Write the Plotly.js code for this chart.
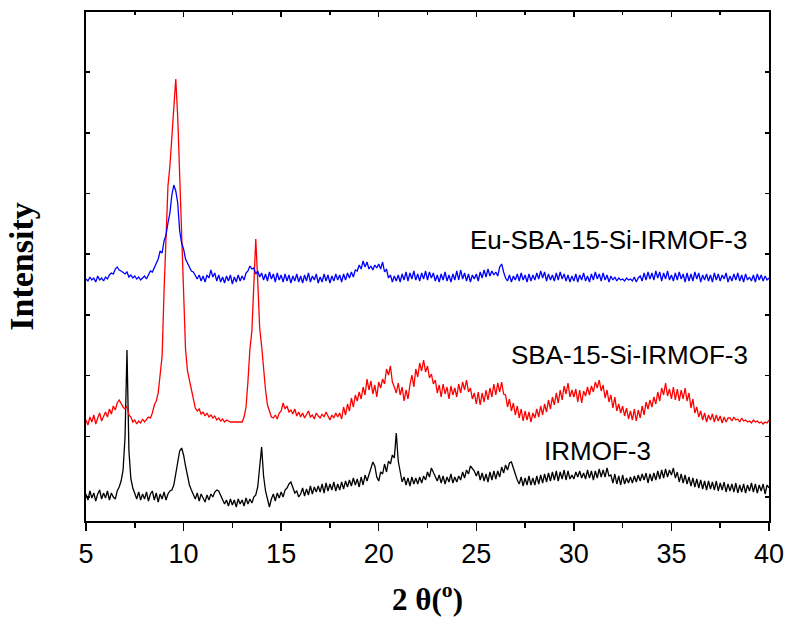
<!DOCTYPE html>
<html>
<head>
<meta charset="utf-8">
<script src="https://cdn.plot.ly/plotly-3.0.1.min.js"></script>
<style>html,body{margin:0;padding:0;background:#fff;}#chart{width:790px;height:623px;}</style>
</head>
<body>
<div id="chart"></div>
<script>
// 2theta grid: starts at 5.0 deg, step 0.1 deg (x0/dx given to Plotly)
const THETA_START = 5.0;
const THETA_STEP = 0.1;
const xTickVals = [5, 10, 15, 20, 25, 30, 35, 40];
const xTickText = ["5", "10", "15", "20", "25", "30", "35", "40"];
const seriesNames = ["IRMOF-3", "SBA-15-Si-IRMOF-3", "Eu-SBA-15-Si-IRMOF-3"];

// Intensity (a.u., offset stacked as drawn)
const irmof3 = [
27,21,30,23,28,20,27,31,22,28,
23,30,21,28,24,22,30,34,40,51,
84,171,70,42,33,27,22,29,21,27,
22,29,20,27,30,21,28,19,27,22,
29,21,27,30,31,36,48,62,70,73,
66,55,44,36,31,27,22,28,20,27,
22,19,26,21,27,24,29,31,30,25,
22,17,21,15,22,16,21,14,22,17,
21,15,23,17,22,18,24,26,34,55,
74,45,30,22,14,22,27,20,28,23,
29,24,31,33,37,39,33,28,30,24,
27,33,25,32,26,35,27,34,29,35,
29,37,28,38,30,37,31,39,30,37,
31,39,32,40,34,41,35,43,36,42,
34,44,36,46,40,47,53,59,55,44,
40,49,47,57,49,60,57,66,63,88,
60,47,39,44,36,43,35,44,37,43,
37,44,38,45,41,49,44,53,48,44,
40,46,38,45,37,44,39,47,38,44,
39,45,41,49,43,51,47,55,52,50,
45,50,41,48,40,47,39,49,41,50,
42,50,44,54,48,56,51,58,59,54,
47,41,37,44,35,43,36,45,36,43,
36,45,37,46,38,47,39,48,40,49,
41,50,40,49,42,51,41,50,42,46,
42,49,44,50,43,48,42,51,43,50,
41,50,43,52,44,51,44,53,45,46,
38,47,37,45,36,46,37,43,38,44,
38,45,39,46,40,47,41,48,38,47,
40,48,41,50,42,51,43,52,44,51,
46,53,43,49,39,47,38,46,37,44,
35,43,34,42,33,41,32,40,31,40,
32,39,31,40,30,38,31,39,29,37,
30,37,29,38,28,36,29,37,28,36,
30,38,29,37,28,36,30,37,27,36,
33];

const sba15 = [
101,96,104,99,106,97,103,108,100,105,
109,104,112,107,115,111,118,121,117,114,
112,115,106,104,99,101,97,100,98,102,
99,101,104,103,108,116,120,128,145,165,
230,295,335,355,384,415,442,404,340,280,
225,172,150,140,131,121,113,110,112,107,
109,105,108,104,106,103,105,101,103,100,
102,99,101,100,99,99,99,99,99,99,
99,104,114,140,172,190,240,282,240,193,
175,150,131,116,109,104,103,106,102,108,
110,118,112,115,109,111,107,112,105,109,
104,108,103,107,110,104,106,102,108,105,
103,107,104,109,105,101,106,103,108,104,
108,102,114,106,117,110,123,114,126,120,
129,122,134,126,142,131,140,127,136,124,
139,133,142,137,152,146,155,139,134,128,
138,126,134,120,131,122,136,146,134,152,
144,158,150,161,149,155,143,147,137,141,
128,136,124,137,127,134,122,135,126,133,
124,137,128,139,131,141,129,133,122,128,
117,129,116,128,119,131,121,133,124,137,
126,138,129,139,127,126,114,122,110,118,
106,115,103,112,100,110,101,109,99,108,
103,112,104,115,106,117,109,121,112,124,
116,128,118,131,121,135,127,138,124,131,
124,132,119,131,118,130,125,134,126,135,
129,139,133,141,130,136,123,131,119,126,
113,124,110,117,108,115,105,113,102,110,
101,112,100,111,103,115,106,119,112,121,
114,124,117,129,120,133,126,138,125,132,
122,134,121,132,120,131,122,133,120,128,
113,122,108,114,104,110,101,108,99,106,
101,107,99,106,100,105,98,104,99,103,
103,100,104,101,102,99,103,100,101,99,
100,98,101,99,100,98,99,97,99,98,
101];

const euSba15 = [
242,240,244,241,243,239,245,241,243,240,
244,242,246,248,247,252,254,251,250,248,
247,249,244,246,243,245,242,244,241,243,
245,242,247,250,249,254,258,262,270,268,
280,286,298,308,326,336,330,318,290,278,
272,262,258,254,250,249,246,242,246,240,
245,239,246,243,251,244,248,240,246,239,
244,238,245,240,246,237,244,239,246,240,
245,241,248,250,255,252,253,247,250,244,
248,241,247,240,249,242,247,239,248,241,
246,239,247,240,246,238,245,240,247,239,
245,238,246,240,248,239,245,241,247,238,
244,239,247,240,246,238,245,240,247,241,
246,239,247,241,248,243,249,244,251,250,
256,252,260,254,259,252,255,251,256,253,
257,252,259,249,252,243,246,239,245,240,
246,239,247,241,249,240,248,242,250,241,
247,240,248,242,250,241,249,243,248,240,
246,239,247,241,249,240,246,239,247,241,
250,241,251,242,248,240,247,239,246,242,
247,240,249,243,251,244,252,245,250,246,
249,245,254,257,249,243,240,246,239,245,
241,247,240,248,241,246,239,247,240,246,
241,248,242,250,243,249,240,247,241,246,
240,248,241,249,242,247,240,246,239,245,
240,247,239,246,241,248,240,245,239,247,
241,249,242,247,240,248,241,246,239,245,
241,244,240,243,241,242,240,243,241,242,
240,244,239,243,245,240,248,241,249,242,
248,241,250,243,249,240,248,242,250,241,
246,240,248,241,249,242,247,239,248,240,
247,240,249,242,248,239,246,241,247,240,
246,239,248,241,247,240,246,242,248,239,
245,240,247,241,248,240,246,239,247,241,
244,240,246,239,247,241,246,240,245,241,
243];

// label anchor positions in data units
const labelX = [31.2, 32.85, 31.75];
const labelY = [70, 166, 281];

const colors = ["#000000", "#ff0000", "#0000ff"];
const seriesData = [irmof3, sba15, euSba15];

const traces = seriesData.map((vals, i) => ({
  type: "scatter",
  mode: "lines",
  x0: THETA_START,
  dx: THETA_STEP,
  y: vals,
  name: seriesNames[i],
  line: {color: colors[i], width: 1.3},
  showlegend: false,
  hoverinfo: "skip"
}));
// empty trace to carry the top mirror axis
traces.push({type: "scatter", mode: "lines", x: [], y: [], xaxis: "x2", showlegend: false, hoverinfo: "skip"});

const tickFont = {family: "Liberation Sans, Arial, sans-serif", size: 27, color: "#000"};

const annotations = seriesNames.map((n, i) => ({
  text: n, x: labelX[i], y: labelY[i], xref: "x", yref: "y",
  showarrow: false, xanchor: "center", yanchor: "middle",
  font: {family: "Liberation Sans, Arial, sans-serif", size: 26, color: "#000"}
}));

const layout = {
  width: 790, height: 623,
  margin: {l: 86, r: 21, t: 12, b: 102},
  paper_bgcolor: "#fff", plot_bgcolor: "#fff",
  showlegend: false,
  xaxis: {
    range: [5, 40], tickmode: "array", tickvals: xTickVals, ticktext: xTickText,
    ticks: "outside", ticklen: 8, tickwidth: 1.5, tickcolor: "#000",
    minor: {ticks: "outside", ticklen: 5, tickwidth: 1.5, tickcolor: "#000", dtick: 2.5, tick0: 5},
    showline: true, linewidth: 2, linecolor: "#000", mirror: true,
    showgrid: false, zeroline: false, tickfont: tickFont,
    title: {text: "<b>2 θ(<sup>o</sup>)</b>", font: {family: "Liberation Serif, Times New Roman, serif", size: 31, color: "#000"}, standoff: 20}
  },
  xaxis2: {
    overlaying: "x", side: "top", anchor: "y", range: [5, 40],
    tickmode: "array", tickvals: xTickVals, showticklabels: false,
    ticks: "inside", ticklen: 5, tickwidth: 1.5, tickcolor: "#000",
    minor: {ticks: "inside", ticklen: 3, tickwidth: 1.5, tickcolor: "#000", dtick: 2.5, tick0: 5},
    showline: false, showgrid: false, zeroline: false
  },
  yaxis: {
    range: [0, 509], tickmode: "linear", tick0: 24, dtick: 60.7,
    ticks: "inside", ticklen: 4, tickwidth: 1.5, tickcolor: "#000",
    showticklabels: false, showline: true, linewidth: 2, linecolor: "#000", mirror: "ticks",
    showgrid: false, zeroline: false,
    title: {text: "<b>Intensity</b>", font: {family: "Liberation Serif, Times New Roman, serif", size: 34, color: "#000"}, standoff: 40}
  },
  annotations: annotations
};

Plotly.newPlot("chart", traces, layout, {staticPlot: true, displayModeBar: false});
</script>
</body>
</html>
